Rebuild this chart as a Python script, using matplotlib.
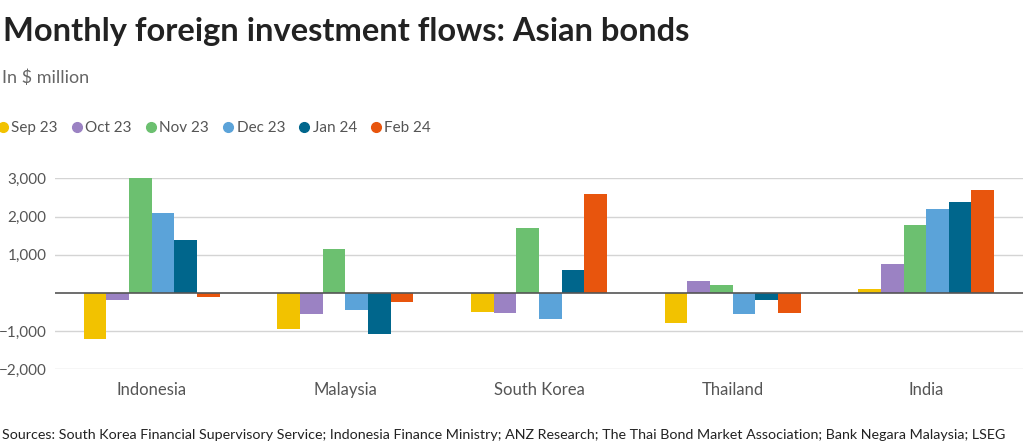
import numpy as np
import matplotlib
matplotlib.use('Agg')
import matplotlib.pyplot as plt
from matplotlib.lines import Line2D

plt.rcParams['font.family'] = ['Lato', 'DejaVu Sans']

countries = ['Indonesia', 'Malaysia', 'South Korea', 'Thailand', 'India']
months = ['Sep 23', 'Oct 23', 'Nov 23', 'Dec 23', 'Jan 24', 'Feb 24']
sep23 = [-1200, -950, -490, -785, 100]
oct23 = [-190, -550, -515, 320, 765]
nov23 = [3000, 1150, 1700, 200, 1765]
dec23 = [2080, -460, -680, -565, 2185]
jan24 = [1385, -1080, 600, -190, 2370]
feb24 = [-95, -245, 2590, -530, 2690]
series = [sep23, oct23, nov23, dec23, jan24, feb24]
colors = ['#f2c200', '#9b82c3', '#6cc070', '#5ba3d9', '#00668c', '#e8550d']
yticks = [-2000, -1000, 1000, 2000, 3000]

fig = plt.figure(figsize=(10.24, 4.48), dpi=100)
ax = fig.add_axes([0.0537, 0.1757, 0.9453, 0.4263])

x = np.arange(len(countries))
w = 0.117
for i, (vals, c) in enumerate(zip(series, colors)):
    ax.bar(x + (i - 2.5) * w, vals, width=w, color=c, zorder=3, clip_on=False)

ax.set_xlim(-0.5, 4.5)
ax.set_ylim(-2000, 3000)
ax.set_yticks(yticks)
ax.set_yticklabels(['\u22122,000', '\u22121,000', '1,000', '2,000', '3,000'])
ax.yaxis.grid(True, color='#d4d4d4', linewidth=1, zorder=0)
ax.axhline(0, color='#555555', linewidth=1.2, zorder=4)
ax.set_xticks(x)
ax.set_xticklabels(countries)
ax.tick_params(axis='both', length=0, colors='#555555')
ax.tick_params(axis='y', pad=6, labelsize=11)
ax.tick_params(axis='x', pad=9, labelsize=12)
for s in ax.spines.values():
    s.set_visible(False)

fig.text(0.003, 0.93, 'Monthly foreign investment flows: Asian bonds',
         fontsize=23.5, fontweight='bold', color='#222222', va='center')
fig.text(0.002, 0.826, 'In $ million', fontsize=13, color='#666666', va='center')

handles = [Line2D([], [], marker='o', linestyle='', markersize=7,
                  markerfacecolor=c, markeredgecolor=c) for c in colors]
fig.legend(handles, months, loc='center left', bbox_to_anchor=(-0.018, 0.714),
           ncol=6, frameon=False, fontsize=11, handletextpad=0.05,
           columnspacing=0.75, labelcolor='#555555', handlelength=1.0)

fig.text(0.002, 0.028, 'Sources: South Korea Financial Supervisory Service; Indonesia Finance Ministry; '
         'ANZ Research; The Thai Bond Market Association; Bank Negara Malaysia; LSEG',
         fontsize=10.3, color='#222222', va='center')

fig.savefig('out.png', dpi=100)
